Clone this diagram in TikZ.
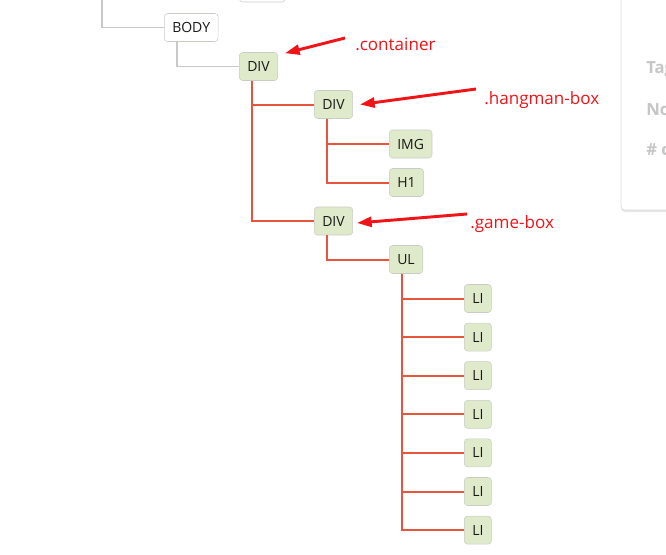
\documentclass[tikz,border=0pt]{standalone}
\usepackage{fontspec}
\setmainfont{Open Sans}
\usepackage{xcolor}
\definecolor{leaf}{HTML}{DFEACB}
\definecolor{rim}{HTML}{C9CCC4}
\definecolor{twig}{HTML}{E8553F}
\definecolor{hot}{HTML}{F01418}
\definecolor{wire}{HTML}{C8C8C8}
\definecolor{faint}{HTML}{C6C6C6}
\usepackage{tikz}
\usetikzlibrary{arrows.meta,positioning,calc,shadows}
\tikzset{
  >={Triangle[length=11pt,width=7.5pt]},
  tag/.style    ={draw=rim,fill=white,rounded corners=2.5pt,anchor=west,
                  font=\fontsize{10.5}{12}\selectfont,text=black!90,
                  inner xsep=6pt,inner ysep=0pt,minimum height=21pt},
  eltag/.style  ={tag,fill=leaf},
  wire/.style   ={draw=wire,line width=0.8pt},
  twig/.style   ={draw=twig,line width=1.5pt},
  pointer/.style={->,draw=hot,line width=2.2pt},
  cls/.style    ={text=hot,font=\fontsize{12.8}{15}\selectfont,anchor=west,inner sep=0pt},
  note/.style   ={text=faint,font=\fontsize{12.5}{14}\selectfont\bfseries,anchor=west,inner sep=0pt},
}

\begin{document}
\begin{tikzpicture}[x=0.75pt,y=-0.75pt]
\useasboundingbox (0,0) rectangle (666,554);
\clip (0,0) rectangle (666,554);

% side panel, cut off on the right
\draw[draw=wire!70,fill=white,rounded corners=3pt,
      drop shadow={shadow xshift=0pt,shadow yshift=-1.5pt,opacity=0.2}]
  (621,-10) rectangle (700,210);
\node[note] (ptag) at (646,70) {Tag};
\node[note] (pno) at (646,110) {No};
\node[note] (pnum) at (646,150) {\# c};

% nodes
\coordinate (top) at (102,0);
\node[tag,minimum width=34.5pt] (head) at (239,-12) {};
\node[tag] (body) at (164,27.5) {BODY};
\node[eltag] (div) at (239,66.5) {DIV};
\node[eltag] (hangman) at (314,104.5) {DIV};
\node[eltag] (img) at (389,144) {IMG};
\node[eltag] (hone) at (389,182.5) {H1};
\node[eltag] (game) at (314,221) {DIV};
\node[eltag] (ul) at (389,259.5) {UL};
\foreach \k in {1,...,7}
  \node[eltag] (li\k) at (464,{298.5+38.6*(\k-1)}) {LI};

% grey links
\draw[wire] (top) |- (body.west);
\draw[wire] ($(body.south west)+(13,0)$) |- (div.west);

% red links
\draw[twig] ($(div.south west)+(13,0)$) |- (hangman.west);
\draw[twig] ($(div.south west)+(13,0)$) |- (game.west);
\draw[twig] ($(hangman.south west)+(13,0)$) |- (img.west);
\draw[twig] ($(hangman.south west)+(13,0)$) |- (hone.west);
\draw[twig] ($(game.south west)+(13,0)$) |- (ul.west);
\foreach \k in {1,...,7}
  \draw[twig] ($(ul.south west)+(13,0)$) |- (li\k.west);

% class labels
\node[cls] (contlab) at (355,44) {.container};
\node[cls] (hanglab) at (484,100) {.hangman-box};
\node[cls] (gamelab) at (470,224) {.game-box};
\draw[pointer] ($(contlab.west)+(-10,-6)$) -- ($(div.north east)+(7,1)$);
\draw[pointer] ($(hanglab.west)+(-8,-11)$) -- ($(hangman.east)+(7,0)$);
\draw[pointer] ($(gamelab.west)+(-3,-10)$) -- ($(game.east)+(4,2)$);
\end{tikzpicture}
\end{document}
